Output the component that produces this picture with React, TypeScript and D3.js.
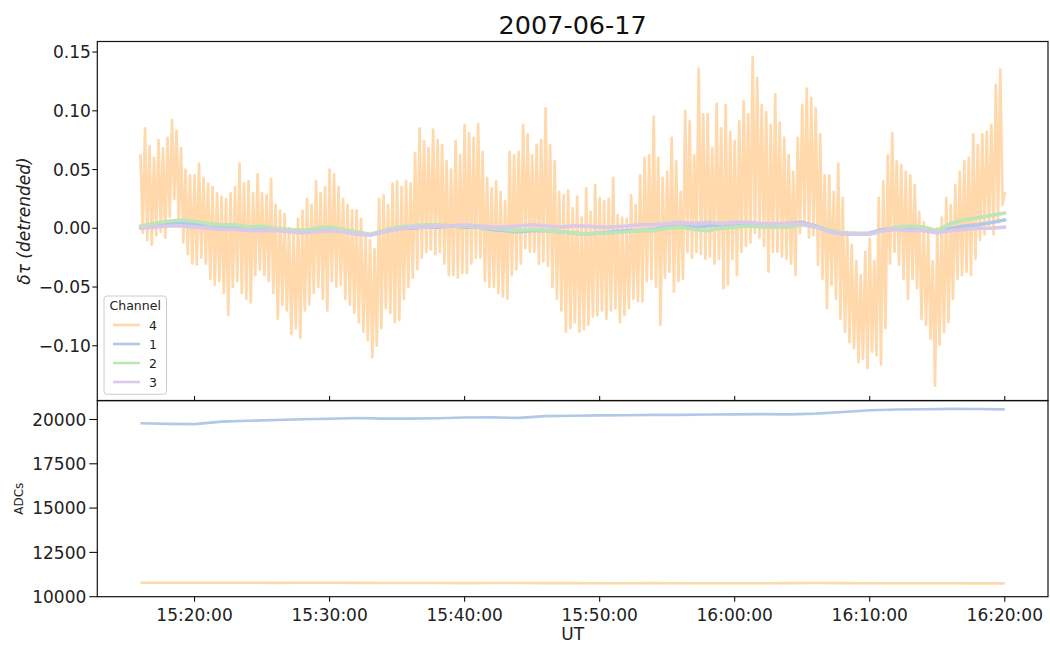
import React from 'react';
import * as d3 from 'd3';

// ---- data ---------------------------------------------------------------
const TITLE = '2007-06-17';
const START = Date.UTC(2007, 5, 17, 15, 16, 0); // first sample, UT
const CH4_STEP_S = 10; // channel 4 detrended delay sampled every 10 s
const SLOW_STEP_S = 60; // channels 1-3 detrended delay, one value per minute
const ADC_STEP_S = 120; // ADC levels, one value every two minutes

// channel 4, detrended delay (one row per minute, six samples per row)
const ch4Tau = [
  0.062, -0.004, 0.085, -0.010, 0.070, -0.014,
  0.060, -0.006, 0.075, -0.003, 0.068, -0.008,
  0.077, 0.010, 0.092, 0.025, 0.083, 0.005,
  0.068, -0.012, 0.050, -0.022, 0.045, -0.030,
  0.045, -0.031, 0.055, -0.025, 0.043, -0.030,
  0.038, -0.043, 0.035, -0.048, 0.030, -0.045,
  0.027, -0.055, 0.025, -0.074, 0.030, -0.050,
  0.035, -0.045, 0.055, -0.055, 0.038, -0.060,
  0.040, -0.063, 0.030, -0.040, 0.046, -0.035,
  0.030, -0.040, 0.028, -0.045, 0.042, -0.055,
  0.020, -0.077, 0.015, -0.065, 0.012, -0.070,
  0.000, -0.090, -0.002, -0.085, 0.008, -0.093,
  0.015, -0.070, 0.025, -0.065, 0.020, -0.055,
  0.040, -0.050, 0.030, -0.060, 0.035, -0.070,
  0.050, -0.045, 0.046, -0.050, 0.035, -0.048,
  0.025, -0.060, 0.020, -0.065, 0.015, -0.072,
  0.015, -0.080, 0.008, -0.088, -0.006, -0.095,
  -0.010, -0.110, -0.018, -0.100, 0.025, -0.085,
  0.028, -0.068, 0.020, -0.072, 0.038, -0.080,
  0.040, -0.078, 0.035, -0.060, 0.040, -0.050,
  0.038, -0.042, 0.064, -0.035, 0.085, -0.025,
  0.074, -0.020, 0.068, -0.018, 0.084, -0.022,
  0.075, -0.020, 0.071, -0.030, 0.057, -0.040,
  0.050, -0.040, 0.074, -0.042, 0.062, -0.038,
  0.088, -0.038, 0.081, -0.030, 0.077, -0.025,
  0.089, -0.025, 0.065, -0.045, 0.043, -0.050,
  0.034, -0.050, 0.040, -0.055, 0.031, -0.058,
  0.023, -0.060, 0.065, -0.040, 0.062, -0.035,
  0.065, -0.030, 0.088, -0.017, 0.080, -0.020,
  0.062, -0.020, 0.071, -0.030, 0.075, -0.028,
  0.102, -0.032, 0.071, -0.050, 0.057, -0.060,
  0.031, -0.070, 0.028, -0.088, 0.032, -0.085,
  0.017, -0.080, 0.027, -0.088, 0.009, -0.086,
  0.034, -0.082, 0.014, -0.075, 0.037, -0.074,
  0.026, -0.070, 0.023, -0.077, 0.025, -0.070,
  0.043, -0.068, 0.011, -0.080, 0.009, -0.074,
  0.008, -0.068, 0.028, -0.060, 0.020, -0.062,
  0.045, -0.062, 0.060, -0.045, 0.062, -0.043,
  0.095, -0.050, 0.060, -0.082, 0.043, -0.042,
  0.048, -0.037, 0.077, -0.054, 0.057, -0.045,
  0.031, -0.043, 0.100, -0.020, 0.091, -0.025,
  0.062, -0.020, 0.136, -0.022, 0.097, -0.026,
  0.097, -0.024, 0.068, -0.030, 0.106, -0.026,
  0.085, -0.051, 0.105, -0.048, 0.082, -0.026,
  0.074, -0.040, 0.091, -0.020, 0.108, -0.015,
  0.097, -0.012, 0.146, -0.004, 0.128, -0.008,
  0.105, -0.015, 0.099, -0.037, 0.088, -0.020,
  0.114, -0.020, 0.090, -0.024, 0.077, -0.026,
  0.062, -0.030, 0.048, -0.040, 0.077, -0.004,
  0.105, 0.006, 0.119, -0.008, 0.111, -0.006,
  0.102, -0.031, 0.080, -0.043, 0.045, -0.068,
  0.045, -0.048, 0.031, -0.060, 0.055, -0.077,
  0.026, -0.088, -0.003, -0.097, -0.014, -0.102,
  -0.028, -0.114, -0.040, -0.111, -0.020, -0.119,
  -0.009, -0.105, -0.028, -0.108, 0.026, -0.116,
  0.040, -0.085, 0.062, -0.030, 0.081, -0.020,
  0.057, -0.031, 0.054, -0.043, 0.048, -0.060,
  0.045, -0.043, 0.037, -0.051, 0.014, -0.077,
  0.005, -0.082, -0.003, -0.094, -0.028, -0.134,
  0.000, -0.099, 0.009, -0.088, 0.026, -0.080,
  0.020, -0.060, 0.037, -0.043, 0.048, -0.040,
  0.057, -0.037, 0.060, -0.040, 0.080, -0.026,
  0.071, -0.010, 0.080, -0.005, 0.082, 0.000,
  0.088, -0.005, 0.122, 0.005, 0.135, 0.020,
  0.030,
];

// channels 1-3, detrended delay, one value per minute
const ch1Tau = [
  0.001, 0.002, 0.004, 0.005, 0.004, 0.003, 0.002, 0.001, 0.000, 0.001,
  -0.001, -0.002, -0.002, -0.001, 0.000, -0.002, -0.004, -0.006, -0.003, 0.000,
  0.000, 0.001, 0.001, 0.002, 0.001, 0.001, -0.001, -0.002, -0.003, -0.002,
  -0.002, -0.003, -0.004, -0.005, -0.004, -0.003, -0.002, -0.002, -0.001, 0.001,
  0.002, 0.001, 0.002, 0.003, 0.002, 0.003, 0.002, 0.003, 0.004, 0.005,
  0.002, -0.002, -0.004, -0.005, -0.004, -0.001, 0.000, 0.000, -0.001, -0.003,
  0.000, 0.002, 0.003, 0.005, 0.007,
];
const ch2Tau = [
  0.002, 0.004, 0.006, 0.007, 0.006, 0.004, 0.003, 0.003, 0.001, 0.002,
  0.000, -0.001, -0.002, 0.000, 0.001, -0.001, -0.003, -0.005, -0.002, 0.001,
  0.002, 0.003, 0.003, 0.002, 0.002, 0.001, 0.000, -0.001, -0.002, -0.001,
  -0.002, -0.003, -0.004, -0.005, -0.004, -0.004, -0.003, -0.002, -0.002, 0.000,
  0.001, -0.001, -0.002, 0.000, 0.001, 0.002, 0.001, 0.001, 0.001, 0.003,
  0.001, -0.002, -0.004, -0.004, -0.005, -0.002, 0.001, 0.002, 0.001, -0.002,
  0.004, 0.007, 0.009, 0.011, 0.013,
];
const ch3Tau = [
  0.000, 0.001, 0.002, 0.002, 0.001, 0.000, -0.001, -0.001, -0.002, -0.002,
  -0.002, -0.003, -0.004, -0.003, -0.002, -0.003, -0.005, -0.006, -0.003, -0.001,
  0.001, 0.001, 0.002, 0.002, 0.003, 0.002, 0.001, 0.001, 0.002, 0.003,
  0.002, 0.001, 0.002, 0.002, 0.001, 0.001, 0.002, 0.003, 0.003, 0.004,
  0.005, 0.004, 0.005, 0.004, 0.005, 0.005, 0.004, 0.004, 0.004, 0.004,
  0.001, -0.003, -0.005, -0.005, -0.005, -0.002, -0.001, -0.002, -0.002, -0.004,
  -0.002, -0.001, 0.000, 0.000, 0.001,
];

// raw ADC levels, one value every two minutes
const adcCh1 = [
  19790, 19750, 19740, 19880, 19930, 19970, 20010, 20040, 20080, 20050,
  20050, 20070, 20110, 20120, 20090, 20190, 20210, 20230, 20240, 20260,
  20260, 20280, 20290, 20300, 20290, 20330, 20420, 20520, 20560, 20580,
  20600, 20590, 20570,
];
const adcCh4 = [
  10790, 10785, 10790, 10790, 10785, 10780, 10785, 10790, 10780, 10775,
  10770, 10770, 10765, 10770, 10770, 10765, 10765, 10760, 10760, 10765,
  10760, 10755, 10760, 10760, 10765, 10770, 10765, 10760, 10755, 10755,
  10755, 10750, 10750,
];

const legendChannels = ['4', '1', '2', '3'];
const tauTicks = [-0.1, -0.05, 0, 0.05, 0.1, 0.15];
const adcTicks = [10000, 12500, 15000, 17500, 20000];

// ---- styling ------------------------------------------------------------
const COLORS: Record<string, string> = {
  '4': '#ffd8ab',
  '1': '#b0c9e6',
  '2': '#bde6b8',
  '3': '#dbc9ea',
};
const FONT = 'DejaVu Sans, Verdana, sans-serif';

const W = 1050;
const H = 645;
const LEFT = 97.3;
const RIGHT = 1048;
const TOP1 = 41.5;
const BOT1 = 400.5;
const TOP2 = 400.7;
const BOT2 = 596.7;

type Pt = { t: Date; v: number };
const series = (vals: number[], stepS: number): Pt[] =>
  vals.map((v, i) => ({ t: new Date(START + i * stepS * 1000), v }));

export default function App() {
  const x = d3
    .scaleUtc()
    .domain([new Date(Date.UTC(2007, 5, 17, 15, 12, 48)), new Date(Date.UTC(2007, 5, 17, 16, 23, 12))])
    .range([LEFT, RIGHT]);
  const yTau = d3.scaleLinear().domain([-0.1466, 0.159]).range([BOT1, TOP1]);
  const yAdc = d3.scaleLinear().domain([10000, 21060]).range([BOT2, TOP2]);

  const tauLine = d3
    .line<Pt>()
    .x((d) => x(d.t))
    .y((d) => yTau(d.v));
  const adcLine = d3
    .line<Pt>()
    .x((d) => x(d.t))
    .y((d) => yAdc(d.v));

  const xTicks = x.ticks(d3.utcMinute.every(10) as d3.TimeInterval);
  const fmt = d3.utcFormat('%H:%M:%S');

  const tauSeries: [string, Pt[], number][] = [
    ['4', series(ch4Tau, CH4_STEP_S), 2.7],
    ['1', series(ch1Tau, SLOW_STEP_S), 3.6],
    ['2', series(ch2Tau, SLOW_STEP_S), 3.6],
    ['3', series(ch3Tau, SLOW_STEP_S), 3.6],
  ];
  const adcSeries: [string, Pt[]][] = [
    ['4', series(adcCh4, ADC_STEP_S)],
    ['1', series(adcCh1, ADC_STEP_S)],
  ];

  const midX = (LEFT + RIGHT) / 2;

  return (
    <div style={{ position: 'absolute', left: 0, top: 0 }}>
      <svg width={W} height={H} style={{ display: 'block', background: '#fff' }} fontFamily={FONT}>
        <defs>
          <clipPath id="clipTop">
            <rect x={LEFT} y={TOP1} width={RIGHT - LEFT} height={BOT1 - TOP1} />
          </clipPath>
          <clipPath id="clipBot">
            <rect x={LEFT} y={TOP2} width={RIGHT - LEFT} height={BOT2 - TOP2} />
          </clipPath>
        </defs>

        {/* title */}
        <text x={midX} y={34} textAnchor="middle" fontSize={25.5} fill="#111">
          {TITLE}
        </text>

        {/* upper panel: detrended delays */}
        <g clipPath="url(#clipTop)">
          {tauSeries.map(([ch, pts, w]) => (
            <path
              key={ch}
              d={tauLine(pts) || ''}
              fill="none"
              stroke={COLORS[ch]}
              strokeWidth={w}
              strokeLinejoin="round"
              strokeLinecap="round"
            />
          ))}
        </g>
        <rect x={LEFT} y={TOP1} width={RIGHT - LEFT} height={BOT1 - TOP1} fill="none" stroke="#111" strokeWidth={1.2} />
        {tauTicks.map((t) => (
          <g key={t}>
            <line x1={LEFT - 5} x2={LEFT} y1={yTau(t)} y2={yTau(t)} stroke="#111" strokeWidth={1.1} />
            <text x={LEFT - 6.5} y={yTau(t)} dy="0.36em" textAnchor="end" fontSize={17} fill="#222">
              {t < 0 ? '\u2212' + Math.abs(t).toFixed(2) : t.toFixed(2)}
            </text>
          </g>
        ))}
        {xTicks.map((t) => (
          <line key={+t} x1={x(t)} x2={x(t)} y1={BOT1 - 4.5} y2={BOT1} stroke="#111" strokeWidth={1.1} />
        ))}
        <text
          transform={`translate(30,${(TOP1 + BOT1) / 2}) rotate(-90)`}
          textAnchor="middle"
          fontSize={17}
          fontStyle="italic"
          fill="#222"
        >
          δτ (detrended)
        </text>

        {/* legend */}
        <g>
          <rect x={104} y={296} width={62.5} height={98.3} rx={3} fill="#fff" fillOpacity={0.8} stroke="#ccc" strokeWidth={1} />
          <text x={135.2} y={310} textAnchor="middle" fontSize={12.5} fill="#222">
            Channel
          </text>
          {legendChannels.map((ch, i) => (
            <g key={ch}>
              <line x1={113} x2={140} y1={325 + i * 19} y2={325 + i * 19} stroke={COLORS[ch]} strokeWidth={2.6} />
              <text x={149} y={325 + i * 19} dy="0.36em" fontSize={12.5} fill="#222">
                {ch}
              </text>
            </g>
          ))}
        </g>

        {/* lower panel: ADC levels */}
        <g clipPath="url(#clipBot)">
          {adcSeries.map(([ch, pts]) => (
            <path key={ch} d={adcLine(pts) || ''} fill="none" stroke={COLORS[ch]} strokeWidth={2.6} strokeLinejoin="round" />
          ))}
        </g>
        <rect x={LEFT} y={TOP2} width={RIGHT - LEFT} height={BOT2 - TOP2} fill="none" stroke="#111" strokeWidth={1.2} />
        {adcTicks.map((t) => (
          <g key={t}>
            <line x1={LEFT - 8} x2={LEFT} y1={yAdc(t)} y2={yAdc(t)} stroke="#111" strokeWidth={1.1} />
            <text x={LEFT - 11} y={yAdc(t)} dy="0.36em" textAnchor="end" fontSize={17} fill="#222">
              {t}
            </text>
          </g>
        ))}
        {xTicks.map((t) => (
          <g key={+t}>
            <line x1={x(t)} x2={x(t)} y1={BOT2} y2={BOT2 + 5} stroke="#111" strokeWidth={1.1} />
            <text x={x(t)} y={621} textAnchor="middle" fontSize={17} fill="#222">
              {fmt(t)}
            </text>
          </g>
        ))}
        <text transform={`translate(23,${(TOP2 + BOT2) / 2}) rotate(-90)`} textAnchor="middle" fontSize={12} fill="#222">
          ADCs
        </text>
        <text x={midX} y={640} textAnchor="middle" fontSize={17} fill="#222">
          UT
        </text>
      </svg>
    </div>
  );
}
